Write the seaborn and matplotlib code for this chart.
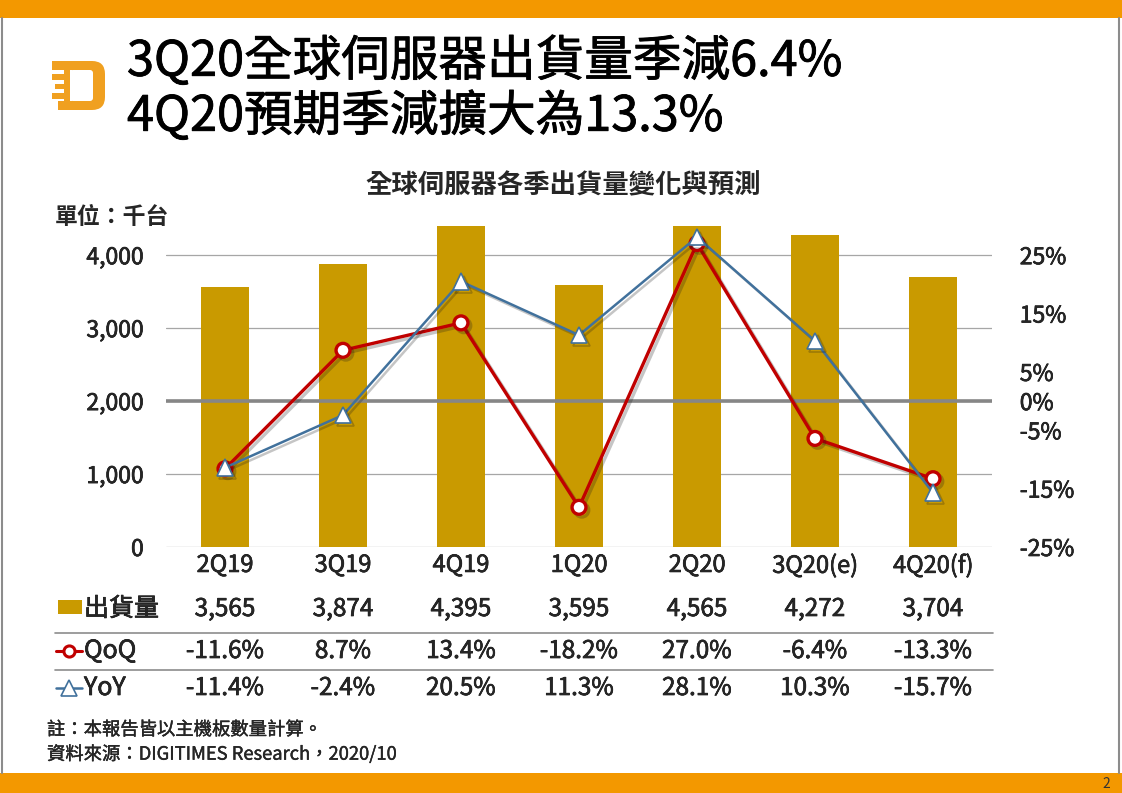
import seaborn as sns
import matplotlib.pyplot as plt
import matplotlib.patheffects as pe
import matplotlib.transforms as mtrans
from matplotlib.patches import Rectangle, FancyBboxPatch
from matplotlib.lines import Line2D
import numpy as np

# data
quarters = ['2Q19', '3Q19', '4Q19', '1Q20', '2Q20', '3Q20(e)', '4Q20(f)']
shipments = [3565, 3874, 4395, 3595, 4565, 4272, 3704]   # 千台
qoq = [-11.6, 8.7, 13.4, -18.2, 27.0, -6.4, -13.3]       # %
yoy = [-11.4, -2.4, 20.5, 11.3, 28.1, 10.3, -15.7]       # %
left_ticks = [0, 1000, 2000, 3000, 4000]
right_ticks = [-25, -15, -5, 0, 5, 15, 25]

sns.set_theme(style="white")
plt.rcParams['font.family'] = ['Noto Sans CJK TC', 'DejaVu Sans']

BAR = '#C99A00'
RED = '#C00000'
BLUE = '#41719C'
ORANGE = '#F39800'
GRID = '#A6A6A6'
# thin stroke to get the heavier look of the original slide font
heavy = [pe.withStroke(linewidth=0.45, foreground='black')]
light = [pe.withStroke(linewidth=0.25, foreground='black')]

fig = plt.figure(figsize=(11.22, 7.93), dpi=100)
ax = fig.add_axes([166/1122, 1-547/793, 826/1122, 321/793])

sns.barplot(x=quarters, y=shipments, color=BAR, saturation=1, width=0.4, ax=ax)
for p in ax.patches:
    p.set_edgecolor('none')
ax.set_ylim(0, 4400)
ax.set_xlim(-0.5, len(quarters) - 0.5)
ax.set_yticks(left_ticks)
ax.set_yticklabels([f'{v:,}' for v in left_ticks], fontsize=16.5, path_effects=heavy)
ax.set_xticks(range(len(quarters)))
ax.set_xticklabels(quarters, fontsize=17, path_effects=heavy)
ax.tick_params(axis='y', length=0, pad=16)
ax.tick_params(axis='x', length=0, pad=5)
ax.set(xlabel=None, ylabel=None)
ax.set_axisbelow(True)
ax.yaxis.grid(True, color=GRID, lw=0.9)
for s in ax.spines.values():
    s.set_visible(False)

ax2 = ax.twinx()
ax2.set_ylim(-25, 30)
ax2.axhline(0, color='#868686', lw=2.6, zorder=1)
shadow = [pe.SimpleLineShadow(offset=(2, -2), alpha=0.25), pe.Normal()]
x = np.arange(len(quarters))
sns.lineplot(x=x, y=qoq, color=RED, lw=2.4, marker='o', markersize=10,
             markerfacecolor='white', markeredgecolor=RED, markeredgewidth=2.4,
             ax=ax2, zorder=3, path_effects=shadow, clip_on=False)
sns.lineplot(x=x, y=yoy, color=BLUE, lw=1.8, marker='^', markersize=12,
             markerfacecolor='white', markeredgecolor=BLUE, markeredgewidth=1.2,
             ax=ax2, zorder=4, path_effects=shadow, clip_on=False)
ax2.set_yticks(right_ticks)
ax2.set_yticklabels([f'{v}%' for v in right_ticks], fontsize=16.5, ha='left', path_effects=heavy)
ax2.tick_params(axis='y', length=0, pad=20)
ax2.set(ylabel=None)
ax2.grid(False)
for s in ax2.spines.values():
    s.set_visible(False)

# overlay in pixel coordinates for the slide decoration
ov = fig.add_axes([0, 0, 1, 1], zorder=-1)
ov.set_xlim(0, 1122)
ov.set_ylim(793, 0)
ov.axis('off')
ov.add_patch(Rectangle((0, 0), 1122, 18, color=ORANGE, lw=0))
ov.add_patch(Rectangle((0, 773), 1122, 20, color=ORANGE, lw=0))
ov.plot([2, 2], [18, 773], color='#8C8C8C', lw=1.5)
ov.plot([1119, 1119], [18, 773], color='#8C8C8C', lw=1.5)
ov.text(1106, 784, '2', fontsize=10, ha='center', va='center', color='#333333')

# logo
LOGO = '#F0A020'
ov.add_patch(FancyBboxPatch((72, 61), 33, 49, boxstyle='round,pad=0,rounding_size=13', color=LOGO, lw=0))
ov.add_patch(FancyBboxPatch((70, 70), 23, 31, boxstyle='round,pad=0,rounding_size=3', color='white', lw=0))
for x0, y0, x1, y1 in [(52, 61, 92, 70), (52, 74, 70, 80), (55, 84, 70, 89),
                       (52, 93, 70, 99), (58, 101, 92, 110), (64, 70, 70, 101)]:
    ov.add_patch(Rectangle((x0, y0), x1 - x0, y1 - y0, color=LOGO, lw=0))

title_fx = [pe.withStroke(linewidth=0.6, foreground='black')]
ov.text(127, 62, '3Q20全球伺服器出貨量季減6.4%', fontsize=35, va='center', ha='left',
        color='black', path_effects=title_fx)
ov.text(127, 117, '4Q20預期季減擴大為13.3%', fontsize=35, va='center', ha='left',
        color='black', path_effects=title_fx)
ov.text(563, 186, '全球伺服器各季出貨量變化與預測', fontsize=19, fontweight='bold', ha='center', va='center')
ov.text(55, 217, '單位：千台', fontsize=16.5, fontweight='bold', ha='left', va='center')

# data table under the chart
tr = mtrans.blended_transform_factory(ax.transData, ov.transData)
rows = [(609, [f'{v:,}' for v in shipments]),
        (651, [f'{v:.1f}%' for v in qoq]),
        (688, [f'{v:.1f}%' for v in yoy])]
for yy, labels in rows:
    for i, lab in enumerate(labels):
        ov.text(i, yy, lab, transform=tr, fontsize=17.5, ha='center', va='center', path_effects=heavy)
for yy in [633, 670]:
    ov.plot([55, 993], [yy, yy], color='#8C8C8C', lw=1.2)

ov.add_patch(Rectangle((58, 600), 24, 14, color=BAR, lw=0))
ov.text(84, 609, '出貨量', fontsize=18, ha='left', va='center', path_effects=heavy)
ov.add_line(Line2D([56, 82], [651, 651], color=RED, lw=2.2))
ov.plot([69], [651], marker='o', markersize=8, markerfacecolor='white',
        markeredgecolor=RED, markeredgewidth=2.2)
ov.text(84, 651, 'QoQ', fontsize=18, ha='left', va='center', path_effects=heavy)
ov.add_line(Line2D([56, 82], [688, 688], color=BLUE, lw=1.8))
ov.plot([69], [688], marker='^', markersize=11, markerfacecolor='white',
        markeredgecolor=BLUE, markeredgewidth=1.2)
ov.text(84, 688, 'YoY', fontsize=18, ha='left', va='center', path_effects=heavy)

ov.text(47, 730, '註：本報告皆以主機板數量計算。', fontsize=13.2, ha='left', va='center', path_effects=light)
ov.text(47, 754, '資料來源：DIGITIMES Research，2020/10', fontsize=13.2, ha='left', va='center', path_effects=light)

fig.savefig('out.png', dpi=100)
